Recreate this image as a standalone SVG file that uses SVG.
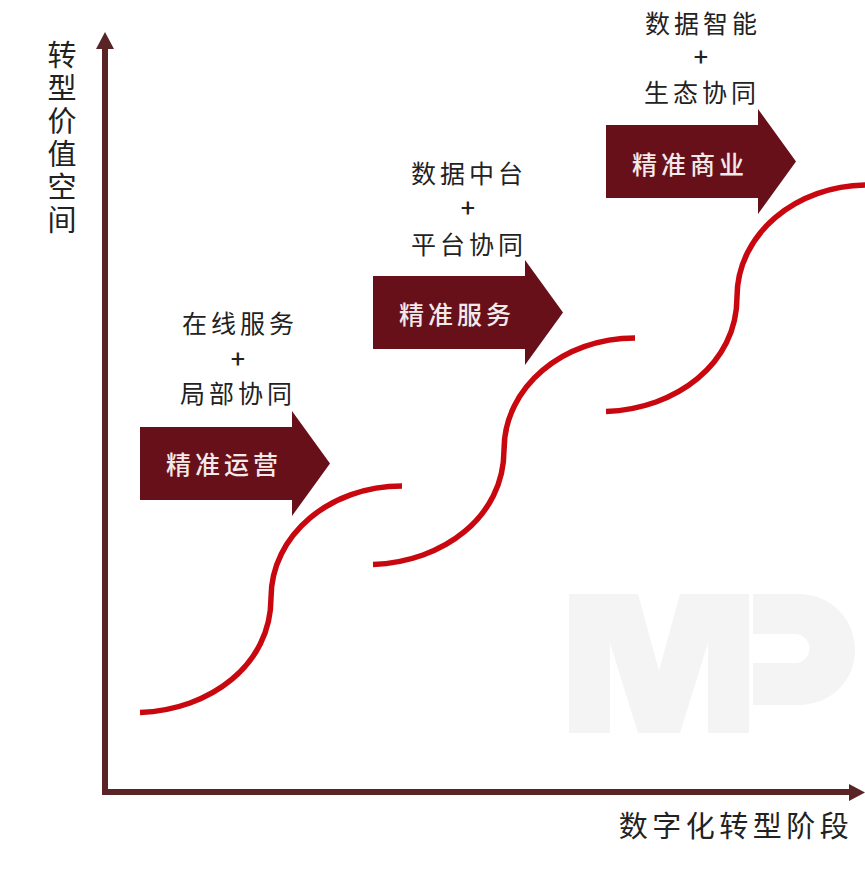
<svg xmlns="http://www.w3.org/2000/svg" width="865" height="879" viewBox="0 0 865 879">
<style>
.t{font-family:"Noto Sans CJK SC",sans-serif;font-size:25px;fill:#222;letter-spacing:4px;text-anchor:middle}
.p{font-family:"Noto Sans CJK SC",sans-serif;font-size:25px;fill:#222;text-anchor:middle;font-weight:500}
.l{font-family:"Noto Sans CJK SC",sans-serif;font-size:29px;fill:#222;text-anchor:middle}
.v{font-family:"Noto Sans CJK SC",sans-serif;font-size:29px;fill:#222;writing-mode:vertical-rl;letter-spacing:4px}
.w{font-family:"Noto Sans CJK SC",sans-serif;font-size:25px;fill:#f3e9e9;letter-spacing:4px;text-anchor:middle;font-weight:500}
.c{fill:none;stroke:#c9070f;stroke-width:5.500}
.a{fill:#67101a}
</style>
<defs>
<path id="curve" class="c" d="M140 712.500C210 710 271 665 271 598C271 535 330 486 402 486"/>
<path id="arrow" class="a" d="M140 427H292V411L330 463.500L292 516V500H140Z"/>
</defs>
<rect width="865" height="879" fill="#fff"/>
<g id="logo" fill="#f4f4f4">
<path d="M569 594H638L659 671L680 594H749V733H708V643L680 733H638L610 643V733H569Z"/>
<path d="M753 594H798C832 594 855 620 855 650C855 680 832 705 798 705H753V663H795A14.500 14.500 0 0 0 795 634H753Z"/>
</g>
<g id="connectors">
<path fill="none" stroke="#5a2426" stroke-width="6" d="M105 795V46M102 792H852"/>
<path fill="#5a2426" d="M105 32L114 49H96ZM849 784L865 792.500L849 801Z"/>
<use href="#curve"/>
<use href="#curve" transform="translate(233 -148)"/>
<use href="#curve" transform="translate(466 -301)"/>
</g>
<g id="node-yunying">
<use href="#arrow"/>
<text class="w" x="224" y="474">精准运营</text>
<text class="t" x="240" y="333">在线服务</text>
<text class="p" x="238" y="368">+</text>
<text class="t" x="238" y="403">局部协同</text>
</g>
<g id="node-fuwu">
<use href="#arrow" transform="translate(233 -151)"/>
<text class="w" x="457" y="324">精准服务</text>
<text class="t" x="469" y="183">数据中台</text>
<text class="p" x="468" y="217">+</text>
<text class="t" x="469" y="254">平台协同</text>
</g>
<g id="node-shangye">
<use href="#arrow" transform="translate(466 -302)"/>
<text class="w" x="690" y="174">精准商业</text>
<text class="t" x="703" y="33">数据智能</text>
<text class="p" x="701" y="66">+</text>
<text class="t" x="702" y="102">生态协同</text>
</g>
<g id="label-y">
<text class="v" x="62" y="40">转型价值空间</text>
</g>
<g id="label-x">
<text class="l" x="736" y="837" style="letter-spacing:4.500px">数字化转型阶段</text>
</g>
</svg>
